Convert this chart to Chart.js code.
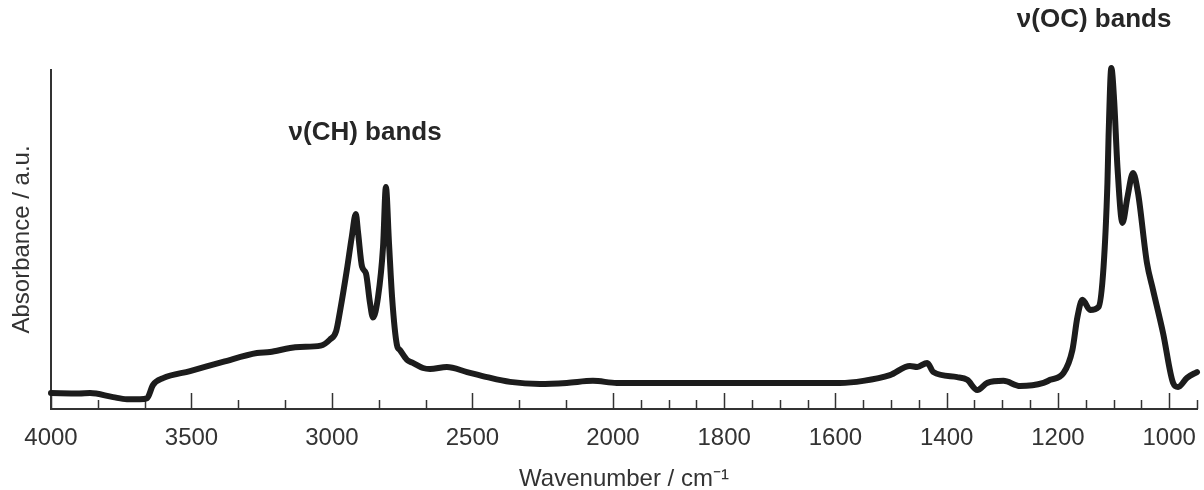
<!doctype html>
<html lang="en">
<head>
<meta charset="utf-8">
<style>
    html, body { margin: 0; padding: 0; background: #fff; }
    #wrap { width: 1204px; height: 490px; }
</style>
</head>
<body>
    <div id="wrap">
        <canvas id="myChart"></canvas>
    </div>

    <script src="https://cdn.jsdelivr.net/npm/chart.js"></script>

    <script>
    // spectrum (wavenumber in cm-1, absorbance in a.u.)
    const wavenumbers = [
        4000, 3900, 3861, 3779, 3730, 3683, 3658, 3637, 3601, 3505, 3388, 3267, 3221, 3149, 3114,
        3040, 3007, 2985, 2971, 2947, 2929, 2915, 2907, 2893, 2879, 2865, 2854, 2836, 2818, 2808,
        2797, 2786, 2769, 2758, 2733, 2712, 2676, 2651, 2591, 2519, 2448, 2366, 2260, 2164, 2071,
        1993, 1903, 1750, 1592, 1550, 1502, 1466, 1453, 1435, 1424, 1381, 1363, 1345, 1327, 1298,
        1268, 1226, 1214, 1190, 1174, 1165, 1156, 1142, 1127, 1118, 1111, 1109, 1104, 1099, 1093,
        1084, 1075, 1065, 1056, 1040, 1029, 1011, 993, 984, 968, 950
    ];
    const absorbance = [
        0.047, 0.046, 0.047, 0.035, 0.029, 0.029, 0.032, 0.071, 0.091, 0.112, 0.139, 0.165, 0.168, 0.180, 0.183,
        0.187, 0.205, 0.230, 0.290, 0.410, 0.510, 0.575, 0.520, 0.420, 0.400, 0.315, 0.270, 0.330, 0.480, 0.655,
        0.490, 0.330, 0.190, 0.174, 0.145, 0.136, 0.121, 0.118, 0.124, 0.109, 0.094, 0.080, 0.074, 0.077, 0.083,
        0.077, 0.077, 0.077, 0.077, 0.083, 0.100, 0.127, 0.124, 0.136, 0.109, 0.094, 0.086, 0.056, 0.077, 0.083,
        0.068, 0.077, 0.086, 0.106, 0.174, 0.271, 0.322, 0.292, 0.301, 0.419, 0.667, 0.802, 1.006, 0.912, 0.714,
        0.549, 0.625, 0.696, 0.637, 0.431, 0.351, 0.224, 0.077, 0.065, 0.092, 0.109
    ];

    const majorTicks = [4000, 3500, 3000, 2500, 2000, 1800, 1600, 1400, 1200, 1000];
    const minorTicks = [
        3833, 3667, 3333, 3167, 2833, 2667, 2333, 2167,
        1950, 1900, 1850, 1750, 1700, 1650, 1550, 1500, 1450, 1350, 1300, 1250,
        1150, 1100, 1050, 950
    ];

    const bandLabels = [
        { text: 'ν(CH) bands', wn: 2882, a: 0.815 },
        { text: 'ν(OC) bands', wn: 1135, a: 1.147 }
    ];

    const FONT = '"Liberation Sans", Arial, sans-serif';

    // IR convention: the axis is stretched (about 2x) below 2000 cm-1
    const BREAK = 2000;
    const STRETCH = 1.98;
    function toAxis(wn) {
        return wn >= BREAK ? 4000 - wn : (4000 - BREAK) + (BREAK - wn) * STRETCH;
    }
    function fromAxis(u) {
        return u <= 4000 - BREAK ? 4000 - u : BREAK - (u - (4000 - BREAK)) / STRETCH;
    }

    const points = wavenumbers.map((wn, i) => ({ x: toAxis(wn), y: absorbance[i] }));

    // inward tick marks, long for major and short for minor
    const tickMarks = {
        id: 'tickMarks',
        beforeDatasetsDraw(chart) {
            const { ctx, chartArea, scales } = chart;
            const y0 = chartArea.bottom;
            ctx.save();
            ctx.strokeStyle = '#333';
            ctx.lineWidth = 1.5;
            const draw = (list, len) => list.forEach(wn => {
                const px = Math.round(scales.x.getPixelForValue(toAxis(wn))) + 0.5;
                ctx.beginPath();
                ctx.moveTo(px, y0);
                ctx.lineTo(px, y0 - len);
                ctx.stroke();
            });
            draw(majorTicks, 16);
            draw(minorTicks, 9);
            ctx.restore();
        }
    };

    const bandText = {
        id: 'bandText',
        afterDraw(chart) {
            const { ctx, scales } = chart;
            ctx.save();
            ctx.font = 'bold 26px ' + FONT;
            ctx.fillStyle = '#262626';
            ctx.textAlign = 'center';
            ctx.textBaseline = 'middle';
            bandLabels.forEach(b => {
                ctx.fillText(b.text, scales.x.getPixelForValue(toAxis(b.wn)), scales.y.getPixelForValue(b.a));
            });
            ctx.restore();
        }
    };

    const ctx = document.getElementById('myChart');

    new Chart(ctx, {
        type: 'line',
        data: {
            datasets: [{
                data: points,
                borderColor: '#1c1c1c',
                borderWidth: 6,
                borderJoinStyle: 'round',
                borderCapStyle: 'round',
                pointRadius: 0,
                cubicInterpolationMode: 'monotone',
                clip: false
            }]
        },
        options: {
            responsive: true,
            maintainAspectRatio: false,
            animation: false,
            layout: { padding: { top: 70, right: 7, left: 0, bottom: 0 } },
            plugins: {
                legend: { display: false },
                tooltip: { enabled: false }
            },
            scales: {
                x: {
                    type: 'linear',
                    min: toAxis(4000),
                    max: toAxis(950),
                    grid: { display: false, drawTicks: false },
                    border: { display: true, color: '#333', width: 2 },
                    ticks: {
                        color: '#333',
                        font: { family: FONT, size: 24 },
                        padding: 15,
                        autoSkip: false,
                        maxRotation: 0,
                        callback: v => Math.round(fromAxis(v))
                    },
                    afterBuildTicks(scale) {
                        scale.ticks = majorTicks.map(wn => ({ value: toAxis(wn) }));
                    },
                    title: {
                        display: true,
                        text: 'Wavenumber / cm⁻¹',
                        color: '#333',
                        font: { family: FONT, size: 24 },
                        padding: { top: 0, bottom: -4 }
                    },
                    afterFit(scale) {
                        scale.height = 81;
                        scale.paddingLeft = 0;
                        scale.paddingRight = 0;
                    }
                },
                y: {
                    min: 0,
                    max: 1,
                    grid: { display: false, drawTicks: false },
                    border: { display: true, color: '#333', width: 2 },
                    ticks: { display: false },
                    title: {
                        display: true,
                        text: 'Absorbance / a.u.',
                        color: '#333',
                        font: { family: FONT, size: 24 },
                        padding: { top: 8, bottom: 0 }
                    },
                    afterFit(scale) { scale.width = 51; }
                }
            }
        },
        plugins: [tickMarks, bandText]
    });
    </script>
</body>
</html>
